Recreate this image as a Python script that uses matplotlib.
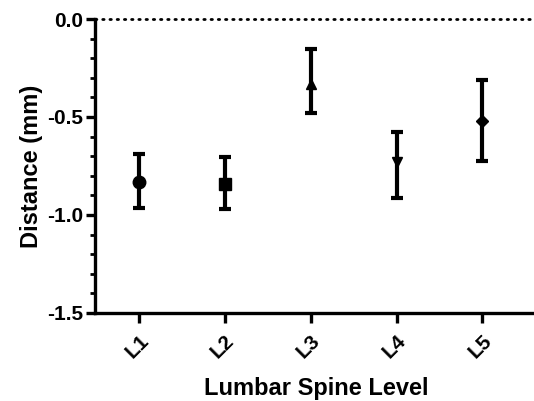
import numpy as np
import matplotlib.pyplot as plt
from matplotlib.ticker import MultipleLocator

plt.rcParams['font.family'] = ['Liberation Sans', 'DejaVu Sans']
plt.rcParams['font.weight'] = 'bold'

niveles = ['L1', 'L2', 'L3', 'L4', 'L5']
media = [-0.83, -0.84, -0.33, -0.73, -0.52]
superior = [-0.69, -0.705, -0.153, -0.577, -0.313]
inferior = [-0.966, -0.971, -0.481, -0.912, -0.724]
marcadores = ['o', 's', '^', 'v', 'D']
tamanos = [9, 8.5, 7.5, 7.5, 6]

fig = plt.figure(figsize=(5.34, 4.01), dpi=100)
ax = fig.add_axes([0.178, 0.2195, 0.83, 0.7331])

x = np.arange(len(niveles))
for i in range(len(niveles)):
    err = [[media[i] - inferior[i]], [superior[i] - media[i]]]
    ax.errorbar(x[i], media[i], yerr=err, fmt=marcadores[i], color='black',
                markersize=tamanos[i], elinewidth=3, capsize=4.5, capthick=3,
                clip_on=False, zorder=3)

# linea punteada en cero
ax.axhline(0, color='black', linestyle=(0, (0.5, 2.1)), linewidth=2,
           dash_capstyle='round', clip_on=False)

ax.set_xlim(-0.51, 4.65)
ax.set_ylim(-1.5, 0.0)
ax.set_xticks(x)
ax.set_xticklabels(niveles, rotation=45, ha='right', rotation_mode='anchor')
ax.yaxis.set_major_locator(MultipleLocator(0.5))
ax.yaxis.set_minor_locator(MultipleLocator(0.1))
ax.yaxis.set_major_formatter(plt.FormatStrFormatter('%.1f'))

for lado in ['top', 'right']:
    ax.spines[lado].set_visible(False)
for lado in ['left', 'bottom']:
    ax.spines[lado].set_linewidth(2.4)

ax.tick_params(axis='both', which='major', direction='out', width=2.4,
               length=6.5, labelsize=15, pad=2)
ax.tick_params(axis='x', which='major', length=7, pad=6)
ax.tick_params(axis='y', which='minor', direction='out', width=2, length=3.5)

ax.set_ylabel('Distance (mm)', fontsize=17, fontweight='bold', labelpad=3)
ax.set_xlabel('Lumbar Spine Level', fontsize=17, fontweight='bold', labelpad=11)

fig.savefig('out.png', dpi=100)
